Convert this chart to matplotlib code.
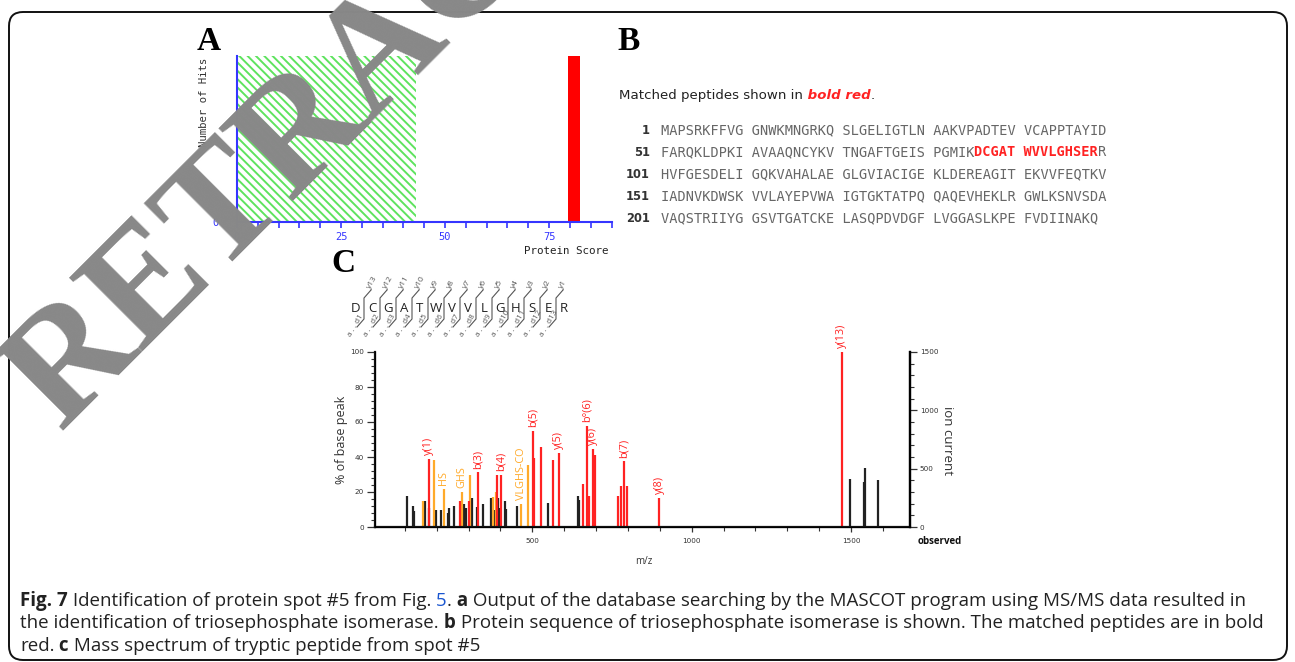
import matplotlib
matplotlib.use("Agg")
import matplotlib.pyplot as plt
from matplotlib.patches import FancyBboxPatch
from matplotlib.ticker import MultipleLocator

W, H = 1295, 662
plt.rcParams['hatch.linewidth'] = 1.4

# ---- A: MASCOT protein score histogram
score_threshold = 43
hit_scores = [81]
hit_counts = [1]
score_ticks = list(range(0, 91, 5))

# ---- B: protein sequence
seq_starts = [1, 51, 101, 151, 201]
seq_lines = [
    "MAPSRKFFVG GNWKMNGRKQ SLGELIGTLN AAKVPADTEV VCAPPTAYID",
    "FARQKLDPKI AVAAQNCYKV TNGAFTGEIS PGMIKDCGAT WVVLGHSERR",
    "HVFGESDELI GQKVAHALAE GLGVIACIGE KLDEREAGIT EKVVFEQTKV",
    "IADNVKDWSK VVLAYEPVWA IGTGKTATPQ QAQEVHEKLR GWLKSNVSDA",
    "VAQSTRIIYG GSVTGATCKE LASQPDVDGF LVGGASLKPE FVDIINAKQ",
]
matched_peptide = "DCGATWVVLGHSER"

# ---- C: MS/MS spectrum (m/z, % of base peak)
other_mz = [106, 125, 129, 163, 177, 198, 214, 236, 240, 255, 286, 292, 310, 326,
            346, 370, 381, 393, 396, 414, 419, 452, 548, 644, 646, 1497, 1540, 1545, 1584]
other_int = [17.9, 11.8, 9, 15, 11, 10, 9.9, 8, 11, 12.2, 13.3, 11, 16.4, 11.4,
             13, 16.6, 10, 16.4, 11, 15, 10.5, 11.8, 13.9, 17.9, 15.6, 27.5, 26, 34, 26.7]
ion_mz = [175, 273, 300, 330, 388, 402, 503, 506, 526, 566, 583, 660, 671, 679,
          690, 697, 770, 778, 788, 796, 898, 1471]
ion_int = [39, 14.9, 14.9, 31.2, 29.7, 30, 54.7, 39.6, 46, 38.5, 42.3, 24.8, 58, 17.9,
           44.8, 41, 17.7, 23.4, 37.5, 23.4, 16.6, 100]
internal_mz = [156, 192, 223, 280, 306, 376, 386, 465, 486]
internal_int = [14.9, 38.5, 22, 20, 30, 17, 20, 13, 35.6]
ion_labels = ["y(1)", "b(3)", "b(4)", "b(5)", "y(5)", "b°(6)", "y(6)", "b(7)", "y(8)", "y(13)"]
ion_label_mz = [175, 330, 402, 503, 583, 671, 690, 788, 898, 1471]
internal_labels = ["HS", "GHS", "VLGHS-CO"]
internal_label_mz = [223, 280, 465]

RED = '#ff2222'
ORANGE = '#ffaa2a'
BLUE = '#3535ff'

fig = plt.figure(figsize=(W / 100, H / 100), dpi=100)
fig.patch.set_facecolor('white')

def px_axes(x0, y0, x1, y1, **kw):
    return fig.add_axes([x0 / W, 1 - y1 / H, (x1 - x0) / W, (y1 - y0) / H], **kw)

# ================= panel A
axA = px_axes(237, 56, 611.5, 222)
axA.bar(0, max(hit_counts), width=score_threshold, align='edge', facecolor='white',
        edgecolor='#5ee35e', hatch='\\\\\\\\', lw=0)
axA.bar(hit_scores, hit_counts, width=2.9, color='#ff0000')
axA.set_xlim(0, 90)
axA.set_ylim(0, 1)
for s in ['top', 'right']:
    axA.spines[s].set_visible(False)
for s in ['left', 'bottom']:
    axA.spines[s].set_color(BLUE)
    axA.spines[s].set_linewidth(1.5)
axA.set_xticks(score_ticks)
axA.set_xticklabels([str(v) if v % 25 == 0 else '' for v in score_ticks])
axA.set_yticks([0])
axA.tick_params(axis='x', colors=BLUE, length=4.5, width=1.2, pad=2.5, labelsize=7.5)
axA.tick_params(axis='y', colors=BLUE, length=0, pad=13, labelsize=7.5)
for lab in axA.get_xticklabels() + axA.get_yticklabels():
    lab.set_family('DejaVu Sans Mono')

# ================= panel C
axC = px_axes(375, 352, 910, 527)
axC.vlines(other_mz, 0, other_int, colors='#222222', lw=1.6)
axC.vlines(internal_mz, 0, internal_int, colors=ORANGE, lw=1.6)
axC.vlines(ion_mz, 0, ion_int, colors=RED, lw=1.6)
axC.set_xlim(6.6, 1685)
axC.set_ylim(0, 100)
axC.spines['top'].set_visible(False)
for s in ['left', 'bottom', 'right']:
    axC.spines[s].set_linewidth(1.6)
    axC.spines[s].set_color('#111111')
axC.xaxis.set_major_locator(MultipleLocator(500))
axC.xaxis.set_minor_locator(MultipleLocator(100))
axC.yaxis.set_major_locator(MultipleLocator(20))
axC.yaxis.set_minor_locator(MultipleLocator(4))
axC.tick_params(which='major', length=5.5, width=0.9, labelsize=5.2, colors='#333333', pad=2.5)
axC.tick_params(which='minor', length=3, width=0.8, colors='#333333')
axC.tick_params(axis='x', which='major', length=3.5, pad=4.5)

axR = axC.twinx()
axR.set_ylim(0, 1500)
axR.spines['top'].set_visible(False)
axR.spines['right'].set_linewidth(1.6)
axR.yaxis.set_major_locator(MultipleLocator(500))
axR.yaxis.set_minor_locator(MultipleLocator(100))
axR.tick_params(which='major', length=5, width=0.9, labelsize=5.2, colors='#333333', pad=2)
axR.tick_params(which='minor', length=3, width=0.8, colors='#333333')

peak_height = dict(zip(other_mz + internal_mz + ion_mz, other_int + internal_int + ion_int))
for lab, mz in zip(ion_labels, ion_label_mz):
    axC.text(mz, peak_height[mz] + 2.2, lab, rotation=90, ha='center', va='bottom',
             color=RED, fontsize=7.8, family='Open Sans', clip_on=False)
for lab, mz in zip(internal_labels, internal_label_mz):
    axC.text(mz, peak_height[mz] + 2.2, lab, rotation=90, ha='center', va='bottom',
             color=ORANGE, fontsize=7.8, family='Open Sans', clip_on=False)

# ================= overlay in pixel coordinates (texts, frame, watermark)
ov = fig.add_axes([0, 0, 1, 1], zorder=10)
ov.set_xlim(0, W)
ov.set_ylim(H, 0)
ov.axis('off')
ov.patch.set_alpha(0)

ov.add_patch(FancyBboxPatch((9, 12), 1278, 648, boxstyle='round,pad=0,rounding_size=14',
                            ec='#111111', fc='none', lw=1.4))

serif = dict(family='Liberation Serif', fontweight='bold', fontsize=24, color='black',
             ha='center', va='center')
ov.text(209, 41, "A", **serif)
ov.text(629, 41, "B", **serif)
ov.text(343, 263, "C", **serif)

ov.text(204, 102, "Number of Hits", rotation=90, ha='center', va='center',
        family='DejaVu Sans Mono', fontsize=7.7, color='#333333')
ov.text(608, 251, "Protein Score", ha='right', va='center',
        family='DejaVu Sans Mono', fontsize=7.8, color='#222222')

r = fig.canvas.get_renderer()

def text_w(s, **kw):
    t = ov.text(0, 0, s, **kw)
    w = t.get_window_extent(r).width
    t.remove()
    return w

def draw_runs(x, y, runs, size, family):
    for s, st in runs:
        t = ov.text(x, y, s, fontsize=size, family=family, ha='left', va='baseline', **st)
        x += t.get_window_extent(r).width
    return x

def runs_w(runs, family, size):
    return sum(text_w(s, fontsize=size, family=family, **st) for s, st in runs)

REG = dict(color='#222222')
BOLD = dict(color='#222222', fontweight='bold')

# header of B
head = [("Matched peptides shown in", REG),
        (" bold red", dict(color=RED, fontweight='bold', style='italic')),
        (".", REG)]
hs = 12 * 255 / runs_w(head, 'DejaVu Sans', 12)
draw_runs(619, 99, head, hs, 'DejaVu Sans')

# sequence of B
mono = dict(family='DejaVu Sans Mono', fontsize=9.8)
cw = (text_w('M' * 51, **mono) - text_w('M', **mono)) / 50
for k, (start, line) in enumerate(zip(seq_starts, seq_lines)):
    y = 130 + k * 22
    ov.text(650, y, str(start), ha='right', va='center', fontweight='bold',
            fontsize=8.3, color='#333333')
    flat = line.replace(' ', '')
    i0 = flat.find(matched_peptide)
    if i0 < 0:
        segs = [(0, line, '#666666', 'normal')]
    else:
        i1 = i0 + len(matched_peptide) - 1
        a = i0 + i0 // 10
        b = i1 + i1 // 10 + 1
        segs = [(0, line[:a], '#666666', 'normal'), (a, line[a:b], RED, 'bold'),
                (b, line[b:], '#666666', 'normal')]
    for off, s, col, wt in segs:
        ov.text(661 + off * cw, y, s, ha='left', va='center', color=col,
                fontweight=wt, **mono)

# fragment ladder of C
lx0, lstep, ly = 356, 16.0, 308
for i, aa in enumerate(matched_peptide):
    ov.text(lx0 + i * lstep, ly, aa, ha='center', va='center', fontsize=9.5,
            family='Open Sans', color='#222222')
n = len(matched_peptide)
for i in range(n - 1):
    xb = lx0 + (i + 0.5) * lstep
    ov.plot([xb + 7, xb, xb, xb - 7], [290, 298, 319, 327], color='#555555', lw=0.8)
    ov.text(xb + 5, 288, f"y{n - 1 - i}", rotation=60, rotation_mode='anchor',
            ha='left', va='center', fontsize=6, family='Open Sans', color='#555555')
    ov.text(xb - 14, 336, f"a . . d{i + 1}", rotation=60, rotation_mode='anchor',
            ha='left', va='center', fontsize=5.8, family='Open Sans', color='#555555')

ov.text(342, 440, "% of base peak", rotation=90, ha='center', va='center',
        fontsize=9, family='Open Sans', color='#333333')
ov.text(948, 440, "ion current", rotation=270, ha='center', va='center',
        fontsize=9.5, family='Open Sans', color='#333333')
ov.text(644, 561, "m/z", ha='center', va='center', fontsize=7, family='Open Sans',
        color='#333333')
ov.text(940, 541, "observed", ha='center', va='center', fontsize=7, fontweight='bold',
        family='Open Sans', color='#111111')

# caption
cap = [
    [("Fig. 7", BOLD), (" Identification of protein spot #5 from Fig.", REG),
     (" 5", dict(color='#1a56d0')), (".", REG), (" a", BOLD),
     (" Output of the database searching by the MASCOT program using MS/MS data resulted in", REG)],
    [("the identification of triosephosphate isomerase.", REG), (" b", BOLD),
     (" Protein sequence of triosephosphate isomerase is shown. The matched peptides are in bold", REG)],
    [("red.", REG), (" c", BOLD), (" Mass spectrum of tryptic peptide from spot #5", REG)],
]
cfam = ['Liberation Sans Narrow', 'Open Sans']
cs = 12 * 2 * 1228 / (runs_w(cap[0], cfam, 12) + runs_w(cap[1], cfam, 12))
cs = min(cs, 15)
for k, runs in enumerate(cap):
    draw_runs(20, 606 + k * 22.5, runs, cs, cfam)

# retraction watermark
ov.text(60, 432, "RETRACTED", rotation=45, rotation_mode='anchor', ha='left',
        va='baseline', fontsize=114, family='Liberation Serif', fontweight='bold',
        color='#888888')

fig.savefig("out.png", dpi=100, facecolor='white')
